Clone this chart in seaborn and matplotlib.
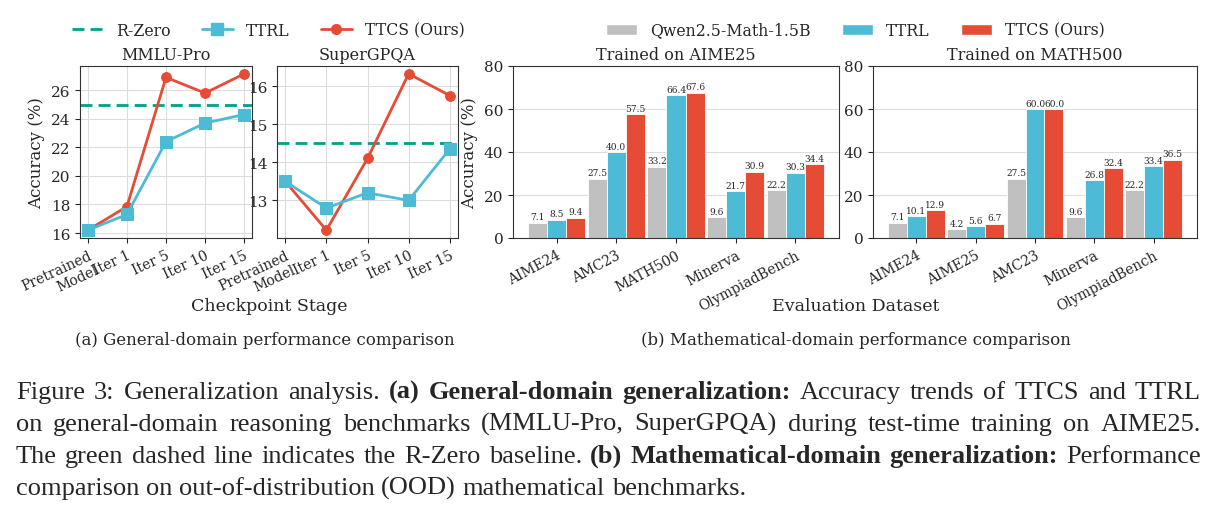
import matplotlib
matplotlib.use('Agg')
import matplotlib.pyplot as plt
from matplotlib.lines import Line2D
from matplotlib.patches import Patch
import numpy as np
import pandas as pd
import seaborn as sns

# ---- data ----
stages = ['Pretrained\nModel', 'Iter 1', 'Iter 5', 'Iter 10', 'Iter 15']
mmlu_ttrl = [16.2, 17.3, 22.4, 23.7, 24.3]
mmlu_ttcs = [16.2, 17.85, 26.9, 25.8, 27.15]
mmlu_rzero = 25.0
sgpqa_ttrl = [13.5, 12.8, 13.2, 13.0, 14.35]
sgpqa_ttcs = [13.5, 12.22, 14.1, 16.32, 15.75]
sgpqa_rzero = 14.5

methods = ['Qwen2.5-Math-1.5B', 'TTRL', 'TTCS (Ours)']
aime_sets = ['AIME24', 'AMC23', 'MATH500', 'Minerva', 'OlympiadBench']
aime_base = [7.1, 27.5, 33.2, 9.6, 22.2]
aime_ttrl = [8.5, 40.0, 66.4, 21.7, 30.3]
aime_ttcs = [9.4, 57.5, 67.6, 30.9, 34.4]
math_sets = ['AIME24', 'AIME25', 'AMC23', 'Minerva', 'OlympiadBench']
math_base = [7.1, 4.2, 27.5, 9.6, 22.2]
math_ttrl = [10.1, 5.6, 60.0, 26.8, 33.4]
math_ttcs = [12.9, 6.7, 60.0, 32.4, 36.5]

GREEN, CYAN, RED, GRAY = '#00A087', '#4DBBD5', '#E64B35', '#C0C0C0'
DASH = (4.3, 2.2)

sns.set_style('ticks')
plt.rcParams['font.family'] = ['DejaVu Serif']
plt.rcParams['axes.edgecolor'] = '#333333'

W, H = 1224, 510
fig = plt.figure(figsize=(W / 100, H / 100), dpi=100)


def px_axes(left, right, top=67, bottom=239):
    return fig.add_axes([left / W, (H - bottom) / H, (right - left) / W, (bottom - top) / H])


# ---- line panels ----
x = np.arange(len(stages))
line_panels = [
    (px_axes(80, 252), 'MMLU-Pro', mmlu_ttrl, mmlu_ttcs, mmlu_rzero, [16, 18, 20, 22, 24, 26]),
    (px_axes(277, 458), 'SuperGPQA', sgpqa_ttrl, sgpqa_ttcs, sgpqa_rzero, [13, 14, 15, 16]),
]
for i, (ax, title, ttrl, ttcs, rzero, yt) in enumerate(line_panels):
    ax.grid(True, color='#dddddd', linewidth=0.8)
    ax.set_axisbelow(True)
    ax.axhline(rzero, color=GREEN, linestyle='--', linewidth=2, dashes=DASH)
    sns.lineplot(x=x, y=ttcs, ax=ax, color=RED, marker='o', markersize=7,
                 markeredgecolor=RED, linewidth=2, sort=False)
    sns.lineplot(x=x, y=ttrl, ax=ax, color=CYAN, marker='s', markersize=8,
                 markeredgecolor=CYAN, linewidth=2, sort=False)
    ax.set_yticks(yt)
    ax.set_xticks(x)
    ax.set_xticklabels(stages, rotation=25, ha='right', rotation_mode='anchor', fontsize=10)
    ax.tick_params(axis='y', labelsize=11)
    ax.set_title(title, fontsize=11.5, pad=5)
    if i == 0:
        ax.set_ylabel('Accuracy (%)', fontsize=12)

# ---- bar panels ----
bar_panels = [
    (px_axes(513, 839), 'Trained on AIME25', aime_sets, [aime_base, aime_ttrl, aime_ttcs]),
    (px_axes(873, 1197), 'Trained on MATH500', math_sets, [math_base, math_ttrl, math_ttcs]),
]
for i, (ax, title, sets, series) in enumerate(bar_panels):
    df = pd.DataFrame({
        'dataset': sets * 3,
        'method': [m for m in methods for _ in sets],
        'value': [v for s in series for v in s],
    })
    sns.barplot(data=df, x='dataset', y='value', hue='method', order=sets,
                hue_order=methods, palette=[GRAY, CYAN, RED], saturation=1, width=0.96,
                edgecolor='white', linewidth=0.6, legend=False, ax=ax)
    for c in ax.containers:
        ax.bar_label(c, fmt='%.1f', fontsize=6.5, padding=1)
    ax.set_xlim(-0.73, len(sets) - 1 + 0.73)
    ax.set_ylim(0, 80)
    ax.set_yticks([0, 20, 40, 60, 80])
    ax.grid(axis='y', color='#dddddd', linewidth=0.8)
    ax.set_axisbelow(True)
    ax.set_xlabel('')
    ax.set_ylabel('Accuracy (%)' if i == 0 else '', fontsize=12)
    ax.set_title(title, fontsize=11.5, pad=5)
    ax.tick_params(axis='y', labelsize=11)
    plt.setp(ax.get_xticklabels(), rotation=28, ha='right', rotation_mode='anchor', fontsize=10)

# ---- legends ----
line_handles = [
    Line2D([], [], color=GREEN, linestyle='--', linewidth=2, dashes=DASH, label='R-Zero'),
    Line2D([], [], color=CYAN, marker='s', markersize=8, linewidth=2, label='TTRL'),
    Line2D([], [], color=RED, marker='o', markersize=7, linewidth=2, label='TTCS (Ours)'),
]
fig.legend(handles=line_handles, loc='center', bbox_to_anchor=(268 / W, 1 - 31 / H),
           ncol=3, frameon=False, fontsize=11.3, columnspacing=2.0, handletextpad=0.8)
bar_handles = [Patch(facecolor=c, label=m) for c, m in zip([GRAY, CYAN, RED], methods)]
fig.legend(handles=bar_handles, loc='center', bbox_to_anchor=(855 / W, 1 - 31 / H),
           ncol=3, frameon=False, fontsize=11.3, columnspacing=2.0, handletextpad=0.8)

# ---- axis labels and sub-captions ----
fig.text(269 / W, 1 - 307 / H, 'Checkpoint Stage', ha='center', va='center', fontsize=12.5)
fig.text(856 / W, 1 - 307 / H, 'Evaluation Dataset', ha='center', va='center', fontsize=12.5)
fig.text(265 / W, 1 - 341 / H, '(a) General-domain performance comparison',
         ha='center', va='center', fontsize=12)
fig.text(856 / W, 1 - 341 / H, '(b) Mathematical-domain performance comparison',
         ha='center', va='center', fontsize=12)

# ---- figure caption (justified, mixed weights) ----
caption = [
    [('Figure 3: Generalization analysis.', False), ('(a) General-domain generalization:', True),
     ('Accuracy trends of TTCS and TTRL', False)],
    [('on general-domain reasoning benchmarks (MMLU-Pro, SuperGPQA) during test-time training on AIME25.', False)],
    [('The green dashed line indicates the R-Zero baseline.', False),
     ('(b) Mathematical-domain generalization:', True), ('Performance', False)],
    [('comparison on out-of-distribution (OOD) mathematical benchmarks.', False)],
]
cap_left, cap_right = 16, 1201
baselines = [399, 431, 463, 495]
cap_font = dict(family='Liberation Serif', fontsize=19)
renderer = fig.canvas.get_renderer()
space = fig.text(0, 0, 'a b', **cap_font)
nospace = fig.text(0, 0, 'ab', **cap_font)
space_w = space.get_window_extent(renderer).width - nospace.get_window_extent(renderer).width
space.remove()
nospace.remove()
for li, segs in enumerate(caption):
    words = [(w, b) for s, b in segs for w in s.split()]
    texts = [fig.text(0, 1 - baselines[li] / H, w, va='baseline', ha='left',
                      fontweight='bold' if b else 'normal', **cap_font) for w, b in words]
    widths = [t.get_window_extent(renderer).width for t in texts]
    if li < len(caption) - 1:
        gap = (cap_right - cap_left - sum(widths)) / (len(words) - 1)
    else:
        gap = space_w
    xpos = cap_left
    for t, w in zip(texts, widths):
        t.set_x(xpos / W)
        xpos += w + gap

fig.savefig('out.png', dpi=100)
